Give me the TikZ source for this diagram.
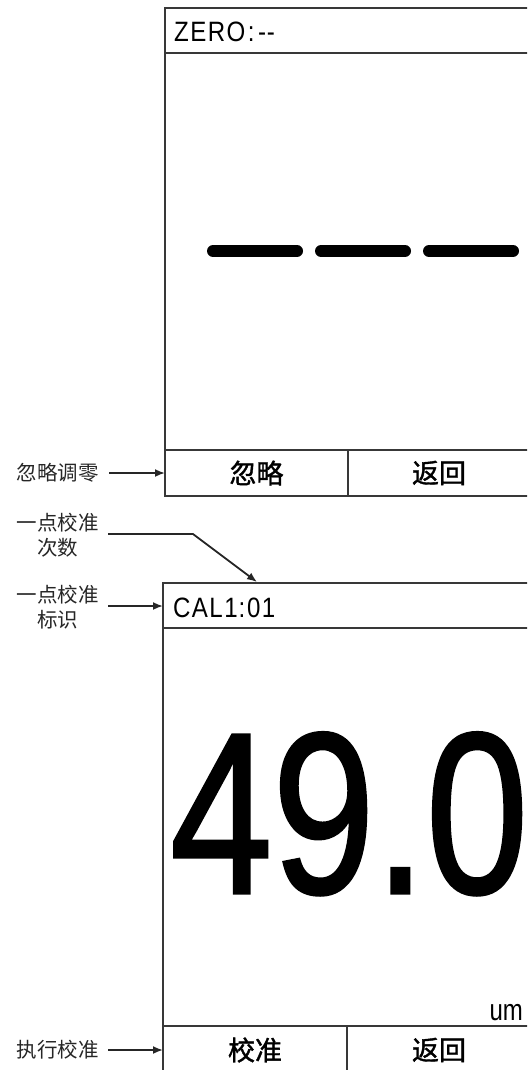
\documentclass[tikz,border=0pt]{standalone}
\usepackage{fontspec}
\setmainfont{Liberation Sans}
\newfontfamily\cjk{Noto Sans CJK SC}
\newfontfamily\cjkbtn[FakeBold=1.4]{Noto Sans CJK SC}
\newfontfamily\bignum[FakeBold=1.3]{Liberation Sans}
\newfontfamily\hdrfont[LetterSpace=6]{Liberation Sans}
\usetikzlibrary{arrows.meta}
\begin{document}
\begin{tikzpicture}[x=1pt,y=-1pt,
  frame/.style={draw=black!78, line width=1.2pt},
  lbl/.style={font=\cjk\fontsize{20.5}{25}\selectfont, text=black!85, align=center, inner sep=0pt},
  btn/.style={font=\cjkbtn\fontsize{27}{30}\selectfont, text=black, inner sep=0pt},
  hdr/.style={font=\hdrfont\fontsize{28}{30}\selectfont, text=black, inner sep=0pt, anchor=base west, xscale=0.86},
  arr/.style={-{Latex[length=10pt,width=8pt]}, line width=1.8pt, draw=black!85},
  bar/.style={line width=12pt, line cap=round}]
\useasboundingbox (0,0) rectangle (527,1070);
\clip (0,0) rectangle (527,1070);
% ---------- top screen
\draw[frame] (165,8) rectangle (540,496);
\draw[frame] (165,53) -- (540,53);
\draw[frame] (165,450) -- (540,450);
\draw[frame] (348,450) -- (348,496);
\node[hdr] (zero) at (174,42) {ZERO\kern3pt:\kern4pt-\kern1pt-};
\draw[bar] (213,251) -- (297,251);
\draw[bar] (321,251) -- (405,251);
\draw[bar] (429,251) -- (513,251);
\node[btn] (ignore) at (256.5,473) {忽略};
\node[btn] (back1) at (439,473) {返回};
% ---------- bottom screen
\draw[frame] (163,583) rectangle (530,1090);
\draw[frame] (163,628) -- (530,628);
\draw[frame] (163,1026) -- (530,1026);
\draw[frame] (347,1026) -- (347,1090);
\node[hdr] (cal) at (173,617) {CAL1\kern1pt:\kern2pt01};
\node[anchor=base west, inner sep=0pt, font=\bignum\fontsize{230}{230}\selectfont, xscale=0.80] (val) at (170,893) {49.0};
\node[anchor=base east, inner sep=0pt, font=\fontsize{30}{30}\selectfont, xscale=0.8] (unit) at (523,1020) {um};
\node[btn] (calib) at (255,1050) {校准};
\node[btn] (back2) at (439,1050) {返回};
% ---------- side labels
\node[lbl, anchor=east] (l1) at (99,473) {忽略调零};
\node[lbl, anchor=east] (l2) at (99,535.5) {一点校准\\次数};
\node[lbl, anchor=east] (l3) at (99,607) {一点校准\\标识};
\node[lbl, anchor=east] (l4) at (99,1050) {执行校准};
\coordinate (t1) at (165,473);
\coordinate (b2) at (193,534);
\coordinate (t2) at (257,582);
\coordinate (t3) at (163,606);
\coordinate (t4) at (163,1050);
\draw[arr] ([xshift=10pt]l1.east) -- (t1);
\draw[arr] ([xshift=9pt]l2.east |- b2) -- (b2) -- (t2);
\draw[arr] ([xshift=9pt]l3.east |- t3) -- (t3);
\draw[arr] ([xshift=9pt]l4.east) -- (t4);
\end{tikzpicture}
\end{document}
